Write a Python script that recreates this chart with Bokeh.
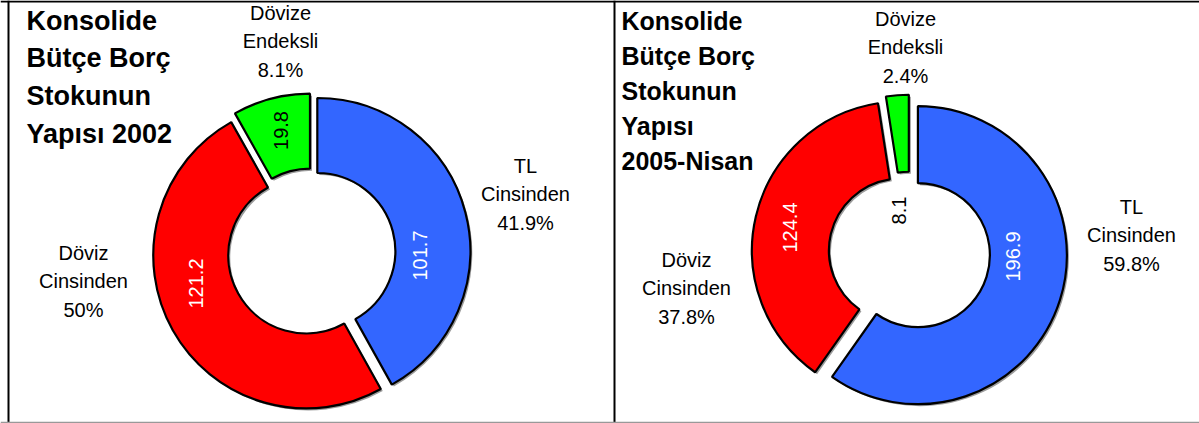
import numpy as np
from bokeh.plotting import figure
from bokeh.models import ColumnDataSource, Range1d, Span
from bokeh.core.properties import value
from bokeh.embed import file_html
from bokeh.resources import INLINE

# ---------------- data ----------------
categories = ["TL Cinsinden", "Döviz Cinsinden", "Döviz Endeksli"]
category_lines = [["TL", "Cinsinden"], ["Döviz", "Cinsinden"], ["Dövize", "Endeksli"]]
values_2002 = [101.7, 121.2, 19.8]
values_2005 = [196.9, 124.4, 8.1]
pct_2002 = ["41.9%", "50%", "8.1%"]
pct_2005 = ["59.8%", "37.8%", "2.4%"]
title_2002 = ["Konsolide", "Bütçe Borç", "Stokunun", "Yapısı 2002"]
title_2005 = ["Konsolide", "Bütçe Borç", "Stokunun", "Yapısı", "2005-Nisan"]

# ---------------- styles ----------------
colors = ["#3366FF", "#FF0000", "#00FF00"]
value_colors = ["white", "white", "black"]
FONT = value("Liberation Sans")

W, H = 1199, 423


def fx(X):
    return X


def fy(Y):
    return H - Y


p = figure(width=W, height=H, x_range=Range1d(0, W), y_range=Range1d(0, H),
           output_backend="svg", toolbar_location=None, min_border=0,
           x_axis_location=None, y_axis_location=None)
p.grid.visible = False
p.outline_line_color = None
p.background_fill_color = "white"
p.border_fill_color = "white"


def draw_panel(vals, pcts, titles, layout):
    cx, cy, R, r, ex = layout["donut"]
    v = np.array(vals, dtype=float)
    frac = v / v.sum()
    ends = np.cumsum(frac) * 360.0
    starts = ends - frac * 360.0
    mids = np.radians((starts + ends) / 2.0)
    xs = fx(cx) + ex * np.sin(mids)
    ys = fy(cy) + ex * np.cos(mids)
    src = ColumnDataSource(dict(
        x=xs, y=ys,
        sx=xs + 2, sy=ys - 2,
        start=np.radians(90 - starts), end=np.radians(90 - ends),
        color=colors, cat=categories,
    ))
    p.annular_wedge(x="sx", y="sy", inner_radius=r, outer_radius=R,
                    start_angle="start", end_angle="end", direction="clock",
                    fill_color="#9c9c9c", line_color=None, source=src)
    p.annular_wedge(x="x", y="y", inner_radius=r, outer_radius=R,
                    start_angle="start", end_angle="end", direction="clock",
                    fill_color="color", line_color="black", line_width=2.2,
                    source=src)

    # value labels (rotated)
    vx = [fx(a) for a, b in layout["values"]]
    vy = [fy(b) for a, b in layout["values"]]
    p.text(x=vx, y=vy, text=[f"{val:.1f}" for val in vals], angle=np.pi / 2,
           text_font=FONT, text_font_size="20px", text_align="center",
           text_baseline="middle", text_color=value_colors)

    # category labels
    tx, ty, tt = [], [], []
    for i, (lx, ly) in enumerate(layout["cats"]):
        lines = category_lines[i] + [pcts[i]]
        for k, line in enumerate(lines):
            tx.append(fx(lx))
            ty.append(fy(ly + k * 28.5))
            tt.append(line)
    p.text(x=tx, y=ty, text=tt, text_font=FONT, text_font_size="20px",
           text_align="center", text_baseline="middle", text_color="black")

    # title
    x0, y0, dy, fs = layout["title"]
    p.text(x=[fx(x0)] * len(titles), y=[fy(y0 + k * dy) for k in range(len(titles))],
           text=titles, text_font=FONT, text_font_style="bold",
           text_font_size=fs, text_align="left", text_baseline="middle",
           text_color="black")


layout_2002 = dict(
    donut=(311, 252, 153, 78, 6),
    values=[(419, 255), (195, 283), (280, 130)],
    cats=[(525, 165), (83, 252), (280, 12)],
    title=(26, 20, 37.7, "27px"),
)
layout_2005 = dict(
    donut=(909, 252, 149, 72, 8.8),
    values=[(1012, 256), (789, 227), (898, 210)],
    cats=[(1131, 206), (686, 259), (905, 18)],
    title=(621, 20, 35.2, "25px"),
)

draw_panel(values_2002, pct_2002, title_2002, layout_2002)
draw_panel(values_2005, pct_2005, title_2005, layout_2005)

# panel frames
p.add_layout(Span(location=fy(1), dimension="width", line_color="black", line_width=2))
p.add_layout(Span(location=fx(8), dimension="height", line_color="black", line_width=2))
p.add_layout(Span(location=fx(614), dimension="height", line_color="black", line_width=2))
p.add_layout(Span(location=fy(422), dimension="width", line_color="#999999", line_width=1.5))

open("out.html", "w").write(file_html(p, INLINE))
